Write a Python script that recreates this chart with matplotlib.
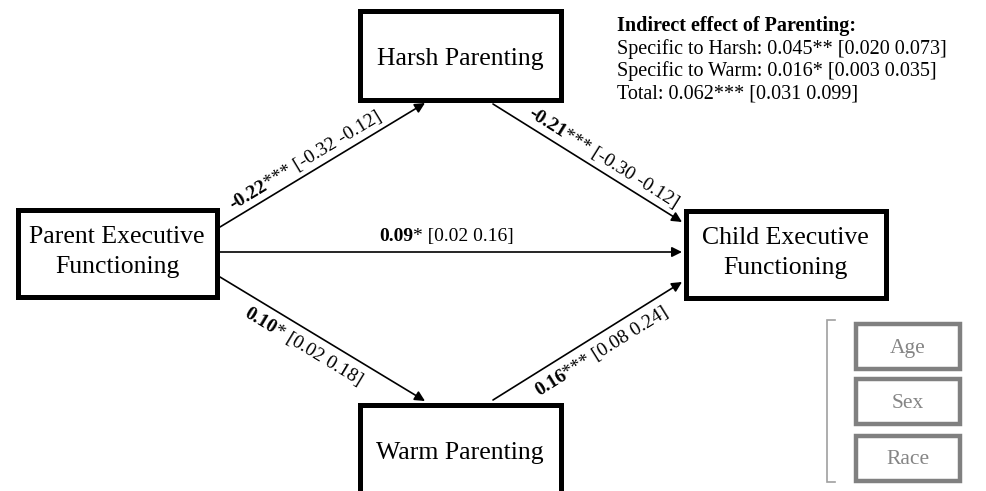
import math
import matplotlib
matplotlib.use('Agg')
import matplotlib.pyplot as plt
from matplotlib.patches import Rectangle

SERIF = ['Liberation Serif', 'DejaVu Serif']

# model variables
nodes = ['Parent Executive\nFunctioning', 'Harsh Parenting',
         'Warm Parenting', 'Child Executive\nFunctioning']

# direct paths: (from, to)
path_from = [0, 1, 0, 2, 0]
path_to = [1, 3, 2, 3, 3]
path_coef = ['-0.22', '-0.21', '0.10', '0.16', '0.09']
path_stars = ['***', '***', '*', '***', '*']
path_ci = ['[-0.32 -0.12]', '[-0.30 -0.12]', '[0.02 0.18]',
           '[0.08 0.24]', '[0.02 0.16]']

indirect_title = 'Indirect effect of Parenting:'
indirect_names = ['Specific to Harsh', 'Specific to Warm', 'Total']
indirect_est = ['0.045', '0.016', '0.062']
indirect_stars = ['**', '*', '***']
indirect_ci = ['[0.020 0.073]', '[0.003 0.035]', '[0.031 0.099]']

covariates = ['Age', 'Sex', 'Race']

# layout in pixels (x, y from the top left)
W, H = 986, 491
box_xywh = [(15, 207, 204, 92), (357, 8, 206, 94),
            (357, 402, 206, 94), (683, 208, 205, 92)]
arrow_pts = [((220, 227), (425, 103)),
             ((493, 104), (682, 222)),
             ((220, 277), (425, 401)),
             ((493, 400), (682, 282)),
             ((220, 252), (682, 252))]
# label position along arrow (fraction) and baseline offset normal to it
label_t = [0.45, 0.55, 0.45, 0.53, 0.49]
label_d = [8, 8, -21, -21, 11]

fig = plt.figure(figsize=(W / 100, H / 100), dpi=100)
ax = fig.add_axes([0, 0, 1, 1])
ax.set_xlim(0, W)
ax.set_ylim(H, 0)
ax.axis('off')
renderer = fig.canvas.get_renderer()


def text_width(s, size, weight):
    t = ax.text(0, 0, s, fontsize=size, fontweight=weight, family=SERIF)
    w = t.get_window_extent(renderer).width
    t.remove()
    return w


def path_label(p0, p1, t, d, parts, size=14):
    dx, dy = p1[0] - p0[0], p1[1] - p0[1]
    ang = math.degrees(math.atan2(-dy, dx))
    a = math.radians(ang)
    u = (math.cos(a), -math.sin(a))
    n = (-math.sin(a), -math.cos(a))
    widths = [text_width(s, size, w) for s, w in parts]
    cx = p0[0] + dx * t + n[0] * d
    cy = p0[1] + dy * t + n[1] * d
    pos = -sum(widths) / 2.0
    for (s, w), wd in zip(parts, widths):
        ax.text(cx + u[0] * pos, cy + u[1] * pos, s, fontsize=size,
                fontweight=w, family=SERIF, rotation=ang,
                rotation_mode='anchor', ha='left', va='baseline')
        pos += wd


for (x, y, bw, bh), name in zip(box_xywh, nodes):
    ax.add_patch(Rectangle((x + 2.5, y + 2.5), bw - 5, bh - 5, lw=3.6,
                           edgecolor='black', facecolor='white', zorder=3))
    off = -1 if '\n' in name else 4
    ax.text(x + bw / 2.0, y + bh / 2.0 + off, name, fontsize=18.5,
            family=SERIF, ha='center', va='center', linespacing=1.5,
            zorder=4)

for i in range(len(path_coef)):
    p0, p1 = arrow_pts[i]
    ax.annotate('', xy=p1, xytext=p0,
                arrowprops=dict(arrowstyle='-|>', color='black', lw=1.2,
                                mutation_scale=15, shrinkA=0, shrinkB=0),
                zorder=2)
    path_label(p0, p1, label_t[i], label_d[i],
               [(path_coef[i], 'bold'),
                (path_stars[i] + ' ' + path_ci[i], 'normal')])

ax.text(617, 31, indirect_title, fontsize=14.5, fontweight='bold',
        family=SERIF, ha='left', va='baseline')
for k in range(len(indirect_names)):
    line = '%s: %s%s %s' % (indirect_names[k], indirect_est[k],
                            indirect_stars[k], indirect_ci[k])
    ax.text(617, 54 + 22 * k, line, fontsize=14.5, family=SERIF,
            ha='left', va='baseline')

# covariate bracket and boxes
gray = '#858585'
ax.plot([835, 827, 827, 835], [320, 320, 482, 482], color='#a0a0a0',
        lw=1.2, solid_joinstyle='miter')
cov_top = [322, 377, 434]
for top, name in zip(cov_top, covariates):
    ax.add_patch(Rectangle((856, top + 2), 104, 45, lw=3.2,
                           edgecolor='#808080', facecolor='white'))
    ax.text(908, top + 26, name, fontsize=15.5, family=SERIF, color=gray,
            ha='center', va='center')

fig.savefig('out.png', dpi=100)
